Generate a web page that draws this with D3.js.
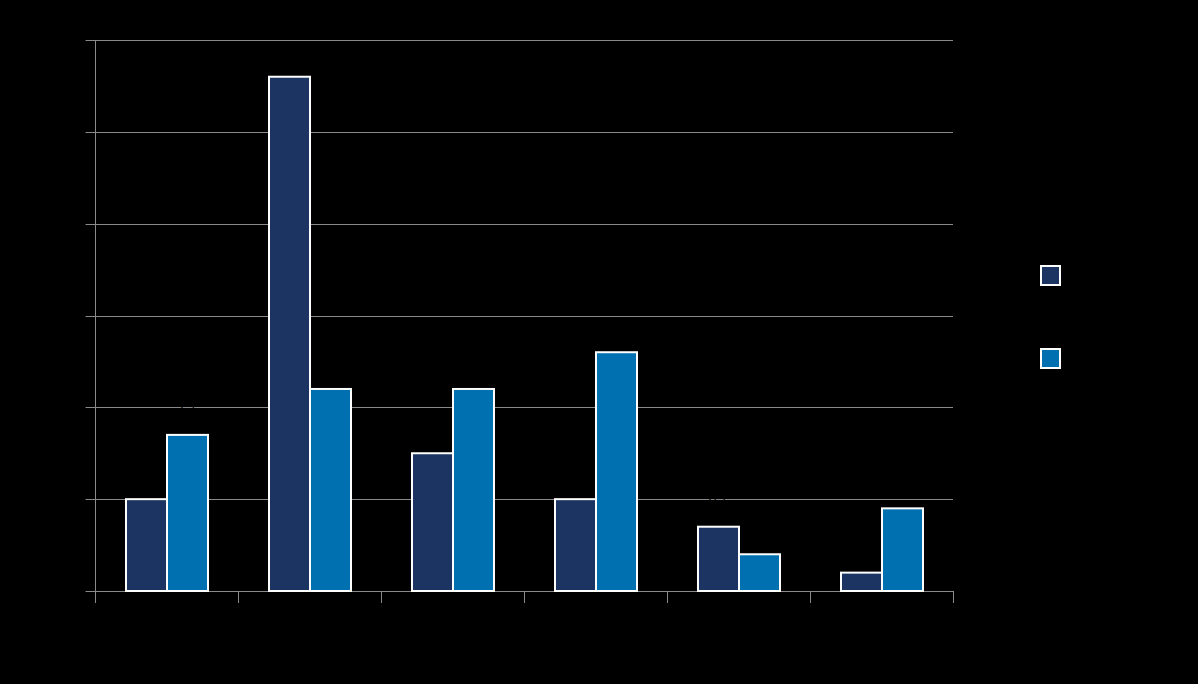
<!DOCTYPE html>
<html><head><meta charset="utf-8">
<script src="https://cdn.jsdelivr.net/npm/d3@7"></script>
<style>html,body{margin:0;padding:0;background:#000;}svg{display:block;}</style>
</head><body>
<svg id="c" width="1198" height="684"></svg>
<script>
const categories = ["Category 1","Category 2","Category 3","Category 4","Category 5","Category 6"];
const seriesNames = ["Series 1","Series 2"];
const series1 = [1.0, 5.6, 1.5, 1.0, 0.7, 0.2];
const series2 = [1.7, 2.2, 2.2, 2.6, 0.4, 0.9];
const yTicks = [0, 1, 2, 3, 4, 5, 6];
const colors = ["#1c3461", "#0070b0"];

const svg = d3.select("#c");
svg.append("rect").attr("width",1198).attr("height",684).attr("fill","#000");
const m = {left:95, right:953, top:40, bottom:591};
const x = d3.scaleBand().domain(categories).range([m.left, m.right]).paddingInner(0).paddingOuter(0);
const y = d3.scaleLinear().domain([0,6]).range([m.bottom, m.top]);
const xi = d3.scaleBand().domain(seriesNames).range([31, 113]);
const px = v => Math.round(v) + 0.5;
const gridColor = "#8a8a8a";

// y axis
const gy = svg.append("g").attr("transform",`translate(${m.left + 0.5},0)`)
  .call(d3.axisLeft(y).tickValues(yTicks).tickSize(10).tickFormat(d=>d));
gy.select(".domain").attr("stroke",gridColor).attr("d",`M0,${m.top}V${m.bottom+12}`);
gy.selectAll(".tick").attr("transform",d=>`translate(0,${px(y(d))})`);
gy.selectAll(".tick line").attr("stroke",gridColor);
gy.selectAll(".tick text").attr("fill","#000").style("font-family","Liberation Sans").style("font-size","14px");
svg.append("g").selectAll("line").data(yTicks).join("line")
  .attr("x1",m.left).attr("x2",m.right).attr("y1",d=>px(y(d))).attr("y2",d=>px(y(d)))
  .attr("stroke",gridColor).attr("stroke-width",1);

// x axis
const gx = svg.append("g").attr("transform",`translate(0,${m.bottom})`)
  .call(d3.axisBottom(x).tickSize(0));
gx.select(".domain").remove();
gx.selectAll(".tick text").attr("fill","#000").attr("dy","1.8em").style("font-family","Liberation Sans").style("font-size","14px");
svg.append("g").selectAll("line").data(d3.range(categories.length+1)).join("line")
  .attr("x1",i=>px(m.left + i*x.step())).attr("x2",i=>px(m.left + i*x.step()))
  .attr("y1",m.bottom).attr("y2",m.bottom+12).attr("stroke",gridColor);

const data = categories.map((c,i)=>({c, vals:[series1[i], series2[i]]}));
const grp = svg.append("g").selectAll("g").data(data).join("g")
  .attr("transform",d=>`translate(${x(d.c)},0)`);
grp.selectAll("rect").data(d=>d.vals.map((v,j)=>({v, s:seriesNames[j], j}))).join("rect")
  .attr("x",d=>xi(d.s)).attr("width",xi.bandwidth())
  .attr("y",d=>y(d.v)).attr("height",d=>y(0)-y(d.v))
  .attr("fill",d=>colors[d.j]).attr("stroke","#fff").attr("stroke-width",2);
// labels above taller bar (black text)
grp.append("text")
  .attr("x",d=>{const j = d.vals[0]>=d.vals[1]?0:1; return xi(seriesNames[j])+xi.bandwidth()/2;})
  .attr("y",d=>y(d3.max(d.vals))-24)
  .attr("text-anchor","middle").attr("fill","#000")
  .style("font-family","Liberation Sans").style("font-size","14px")
  .text(d=>d3.max(d.vals).toFixed(1));

// legend
const lg = svg.append("g").selectAll("g").data(seriesNames).join("g")
  .attr("transform",(d,i)=>`translate(1041,${266+i*83})`);
lg.append("rect").attr("width",19).attr("height",19).attr("fill",(d,i)=>colors[i]).attr("stroke","#fff").attr("stroke-width",2);
lg.append("text").attr("x",30).attr("y",15).attr("fill","#000").style("font-family","Liberation Sans").style("font-size","14px").text(d=>d);
</script>
</body></html>
